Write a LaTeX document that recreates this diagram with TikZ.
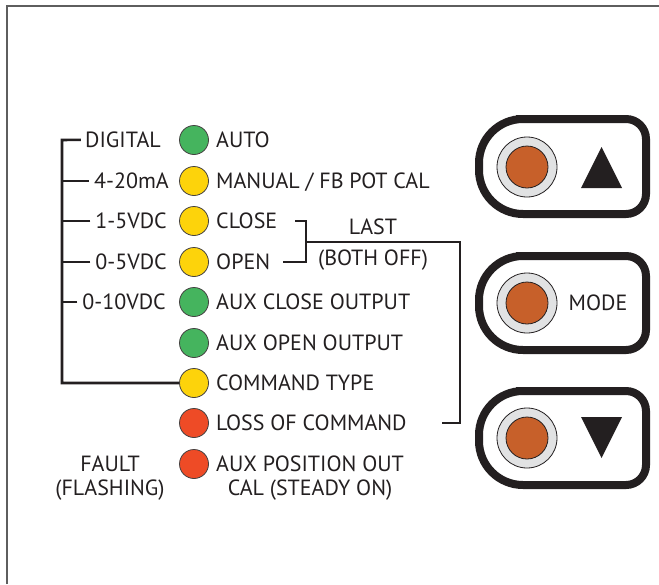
\documentclass[tikz,border=0pt]{standalone}
\usepackage{fontspec}
\setmainfont{PT Sans}
\definecolor{ledgreen}{HTML}{45B45E}
\definecolor{ledyellow}{HTML}{FDD30B}
\definecolor{ledred}{HTML}{EE4B26}
\definecolor{btnorange}{HTML}{C7602A}
\definecolor{ringgray}{HTML}{E1E2E3}
\definecolor{ink}{HTML}{231F20}
\definecolor{framegray}{HTML}{5E5E5E}
\begin{document}
\begin{tikzpicture}[x=1pt,y=-1pt,
  txt/.style={font=\fontsize{22}{24}\selectfont, text=ink, inner sep=0pt},
  led/.style={circle, draw=ink!85, line width=0.8pt, minimum size=29pt, inner sep=0pt},
  wire/.style={draw=ink, line width=2.6pt},
  btnframe/.style={draw=ink, line width=8pt, fill=white},
  ring/.style={circle, draw=ink, line width=0.8pt, fill=ringgray, minimum size=60pt, inner sep=0pt},
  knob/.style={circle, draw=ink, line width=0.8pt, fill=btnorange, minimum size=42pt, inner sep=0pt},
  tri/.style={fill=ink}]
\useasboundingbox (0,0) rectangle (659,584);
\fill[white] (0,0) rectangle (659,584);
\draw[framegray, line width=1.5pt] (7,584) -- (7,6) -- (659,6);

% LEDs
\node[led, fill=ledgreen]  (l1) at (194,140) {};
\node[led, fill=ledyellow] (l2) at (194,181) {};
\node[led, fill=ledyellow] (l3) at (194,221) {};
\node[led, fill=ledyellow] (l4) at (194,262) {};
\node[led, fill=ledgreen]  (l5) at (194,302) {};
\node[led, fill=ledgreen]  (l6) at (194,343) {};
\node[led, fill=ledyellow] (l7) at (194,383) {};
\node[led, fill=ledred]    (l8) at (194,423) {};
\node[led, fill=ledred]    (l9) at (194,464) {};

% LED labels
\node[txt, anchor=base west] (t1) at (216,147.5) {AUTO};
\node[txt, anchor=base west] (t2) at (216,188.5) {MANUAL / FB POT CAL};
\node[txt, anchor=base west] (t3) at (216,228.5) {CLOSE};
\node[txt, anchor=base west] (t4) at (216,269.5) {OPEN};
\node[txt, anchor=base west] (t5) at (216,309.5) {AUX CLOSE OUTPUT};
\node[txt, anchor=base west] (t6) at (216,350.5) {AUX OPEN OUTPUT};
\node[txt, anchor=base west] (t7) at (216,390.5) {COMMAND TYPE};
\node[txt, anchor=base west] (t8) at (216,430.5) {LOSS OF COMMAND};
\node[txt, anchor=base west] (t9) at (216,471.5) {AUX POSITION OUT};
\node[txt, anchor=base] (t9b) at (t9.base |- 0,495.5) {CAL (STEADY ON)};

% command type labels
\node[txt, anchor=base east] (d1) at (161,147.5) {DIGITAL};
\node[txt, anchor=base east] (d2) at (169,188.5) {4-20mA};
\node[txt, anchor=base east] (d3) at (167,228.5) {1-5VDC};
\node[txt, anchor=base east] (d4) at (167,269.5) {0-5VDC};
\node[txt, anchor=base east] (d5) at (166,309.5) {0-10VDC};

% fault labels
\node[txt, anchor=base] (f1) at (110,471.5) {FAULT};
\node[txt, anchor=base] (f2) at (110,495.5) {(FLASHING)};

% LAST label
\node[txt, anchor=base] (last) at (373,234.5) {LAST};
\node[txt, anchor=base] (both) at (373,265.5) {(BOTH OFF)};

% tree connector
\coordinate (sTop) at (62,140);
\coordinate (sBot) at (62,383);
\draw[wire] ([xshift=-4pt]d1.west) -- (sTop) -- (sBot) -- (l7.west);
\draw[wire] ([xshift=-5pt]d2.west) -- (d2.west -| sTop);
\draw[wire] ([xshift=-5pt]d3.west) -- (d3.west -| sTop);
\draw[wire] ([xshift=-5pt]d4.west) -- (d4.west -| sTop);
\draw[wire] ([xshift=-5pt]d5.west) -- (d5.west -| sTop);

% bracket connector
\coordinate (bc1) at (295,221);
\coordinate (bo1) at (283,262);
\coordinate (bx)  at (306,221);
\coordinate (bm)  at (306,242);
\coordinate (br)  at (460,242);
\coordinate (bl)  at (442,423);
\draw[wire] (bc1) -- (bx) -- (bx |- bo1) -- (bo1);
\draw[wire] (bm) -- (br) -- (br |- bl) -- (bl);

% buttons
\draw[btnframe] (560,119) [rounded corners=20pt] -- (646,119) -- (646,214) -- (560,214) [rounded corners=44pt] -- (479,214) -- (479,119) -- cycle;
\node[ring] (r1) at (527,167) {};
\node[knob] (k1) at (527,167) {};
\fill[tri] (581,188) -- (622,188) -- (601.5,147) -- cycle;

\draw[btnframe] (560,256) [rounded corners=20pt] -- (646,256) -- (646,350) -- (560,350) [rounded corners=44pt] -- (479,350) -- (479,256) -- cycle;
\node[ring] (r2) at (527,303) {};
\node[knob] (k2) at (527,303) {};
\node[txt] (mode) at (598,303) {MODE};

\draw[btnframe] (560,391) [rounded corners=20pt] -- (646,391) -- (646,485) -- (560,485) [rounded corners=44pt] -- (479,485) -- (479,391) -- cycle;
\node[ring] (r3) at (527,438) {};
\node[knob] (k3) at (527,438) {};
\fill[tri] (581,417) -- (622,417) -- (601.5,458) -- cycle;
\end{tikzpicture}
\end{document}
